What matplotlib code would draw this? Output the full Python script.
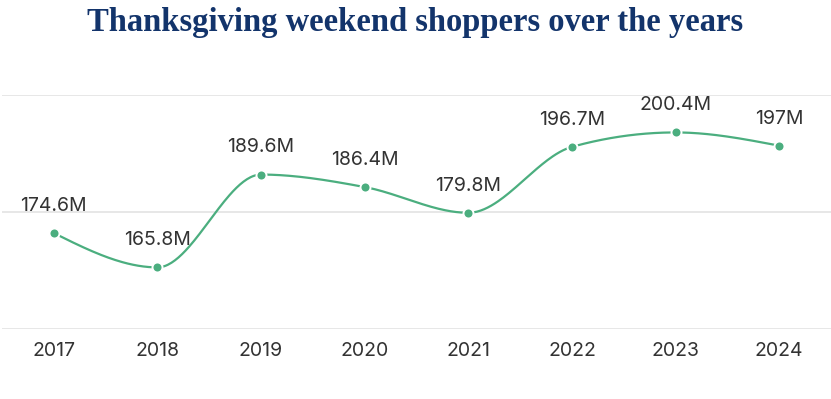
import numpy as np
import matplotlib
matplotlib.use("Agg")
import matplotlib.pyplot as plt

years = ["2017", "2018", "2019", "2020", "2021", "2022", "2023", "2024"]
shoppers = [174.6, 165.8, 189.6, 186.4, 179.8, 196.7, 200.4, 197.0]
labels = ["174.6M", "165.8M", "189.6M", "186.4M", "179.8M", "196.7M", "200.4M", "197M"]
yticks = [150, 180, 210]
title = "Thanksgiving weekend shoppers over the years"

LINE = "#4BAE7F"
TEXT = "#333333"
GRID = "#E3E3E3"
NAVY = "#13346B"


def monotone_x(x, y, n=60):
    x = np.asarray(x, float); y = np.asarray(y, float)
    m = len(x)
    h = np.diff(x); s = np.diff(y) / h
    t = np.zeros(m)
    for i in range(1, m - 1):
        p = (s[i - 1] * h[i] + s[i] * h[i - 1]) / (h[i - 1] + h[i])
        t[i] = (np.sign(s[i - 1]) + np.sign(s[i])) * min(abs(s[i - 1]), abs(s[i]), 0.5 * abs(p))
    t[0] = (3 * s[0] - t[1]) / 2
    t[-1] = (3 * s[-1] - t[-2]) / 2
    xs, ys = [], []
    for i in range(m - 1):
        dx = h[i] / 3
        P0 = np.array([x[i], y[i]])
        P1 = np.array([x[i] + dx, y[i] + dx * t[i]])
        P2 = np.array([x[i + 1] - dx, y[i + 1] - dx * t[i + 1]])
        P3 = np.array([x[i + 1], y[i + 1]])
        u = np.linspace(0, 1, n)[:, None]
        B = (1 - u) ** 3 * P0 + 3 * (1 - u) ** 2 * u * P1 + 3 * (1 - u) * u ** 2 * P2 + u ** 3 * P3
        xs.extend(B[:, 0]); ys.extend(B[:, 1])
    return np.array(xs), np.array(ys)


fig = plt.figure(figsize=(8.31, 3.99), dpi=100)
ax = fig.add_axes([2 / 831, 70 / 399, 829 / 831, 234 / 399])

FONT = ["Inter", "Open Sans", "DejaVu Sans"]

xpos = np.arange(len(years))
cx, cy = monotone_x(xpos, shoppers)
ax.plot(cx, cy, color=LINE, lw=1.6, zorder=3, solid_capstyle="round")
ax.scatter(xpos, shoppers, s=52, color=LINE, edgecolors="white", linewidths=1.4, zorder=4)

for xi, v, lab in zip(xpos, shoppers, labels):
    ax.annotate(lab, (xi, v), xytext=(0, 19.5), textcoords="offset points",
                ha="center", va="center", fontsize=14, color=TEXT, family=FONT)

ax.set_xlim(-0.5, len(years) - 0.5)
ax.set_ylim(yticks[0], yticks[-1])
ax.set_yticks(yticks)
ax.set_xticks(xpos)
ax.set_xticklabels(years, fontsize=14, color=TEXT, family=FONT)
ax.tick_params(axis="x", length=0, pad=9.5)
ax.tick_params(axis="y", length=0, labelleft=False)
ax.grid(axis="y", color=GRID, lw=1.2)
ax.set_axisbelow(True)
for sp in ax.spines.values():
    sp.set_visible(False)

fig.text(0.5, 1 - 23 / 399, title, ha="center", va="center", fontsize=23.5,
         fontweight="bold", color=NAVY, family=["Liberation Serif", "DejaVu Serif"])

fig.savefig("out.png", dpi=100, facecolor="white")
